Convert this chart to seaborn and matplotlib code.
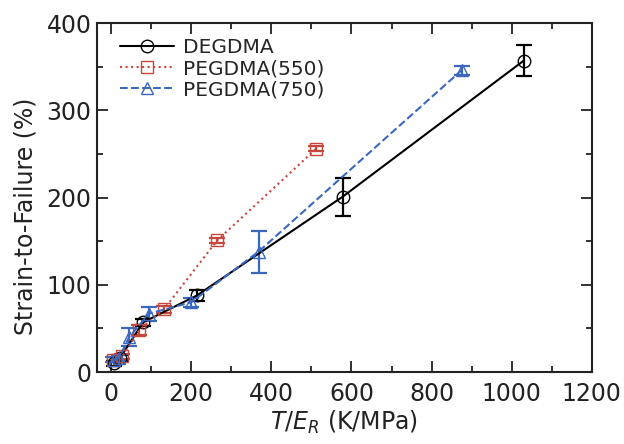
import matplotlib
matplotlib.use("Agg")
import matplotlib.pyplot as plt
import seaborn as sns
import pandas as pd

# Strain-to-failure vs. T/E_R for three crosslinkers
degdma_x = [8, 22, 80, 215, 578, 1030]
degdma_y = [10, 16, 57, 88, 201, 357]
degdma_err = [3, 3, 4, 6, 22, 18]

peg550_x = [5, 28, 70, 132, 265, 512]
peg550_y = [14, 18, 48, 72, 151, 256]
peg550_err = [3, 3, 6, 4, 3, 3]

peg750_x = [8, 20, 45, 95, 200, 368, 875]
peg750_y = [14, 16, 40, 67, 80, 138, 346]
peg750_err = [3, 3, 10, 8, 5, 24, 5]

labels = ["DEGDMA", "PEGDMA(550)", "PEGDMA(750)"]
x_ticks = [0, 200, 400, 600, 800, 1000, 1200]
y_ticks = [0, 100, 200, 300, 400]

sns.set_style("ticks")
plt.rcParams["font.family"] = ["DejaVu Sans"]
plt.rcParams["mathtext.fontset"] = "dejavusans"

fig = plt.figure(figsize=(6.24, 4.44), dpi=100)
ax = fig.add_axes([0.1555, 0.162, 0.793, 0.786])

series = [
    (degdma_x, degdma_y, degdma_err, "black", "o", "-"),
    (peg550_x, peg550_y, peg550_err, "#c8473b", "s", ":"),
    (peg750_x, peg750_y, peg750_err, "#3a68c0", "^", "--"),
]

for (xs, ys, es, color, marker, ls), label in zip(series, labels):
    df = pd.DataFrame({"x": xs, "y": ys})
    ax.errorbar(xs, ys, yerr=es, fmt="none", ecolor=color, elinewidth=1.6,
                capsize=6, capthick=1.6, zorder=2)
    sns.lineplot(data=df, x="x", y="y", ax=ax, color=color, linestyle=ls,
                 linewidth=1.5, marker=marker, markersize=9,
                 markerfacecolor="none", markeredgecolor=color,
                 markeredgewidth=1.0, label=label, sort=False, zorder=3)

ax.set_xlim(-35, 1200)
ax.set_ylim(0, 400)
ax.set_xticks(x_ticks)
ax.set_yticks(y_ticks)
ax.set_xticks(range(100, 1200, 200), minor=True)
ax.set_yticks(range(50, 400, 100), minor=True)
ax.tick_params(which="both", direction="in", top=True, right=True,
               width=1.3, color="#222222", labelsize=17, labelcolor="#222222")
ax.tick_params(axis="y", pad=4)
ax.tick_params(axis="x", pad=7)
ax.tick_params(which="major", length=8)
ax.tick_params(which="minor", length=4)
for s in ax.spines.values():
    s.set_linewidth(1.5)
    s.set_color("#222222")

ax.set_xlabel(r"$T/E_R$ (K/MPa)", fontsize=17, color="#222222", labelpad=2)
ax.set_ylabel("Strain-to-Failure (%)", fontsize=17, color="#222222")
ax.yaxis.set_label_coords(-0.12, 0.445)

leg = ax.legend(loc="upper left", frameon=False, fontsize=14.5, handlelength=2.7,
                borderaxespad=0.0, labelspacing=0.1, handletextpad=0.45,
                bbox_to_anchor=(0.03, 0.98))

fig.savefig("out.png", dpi=100)
